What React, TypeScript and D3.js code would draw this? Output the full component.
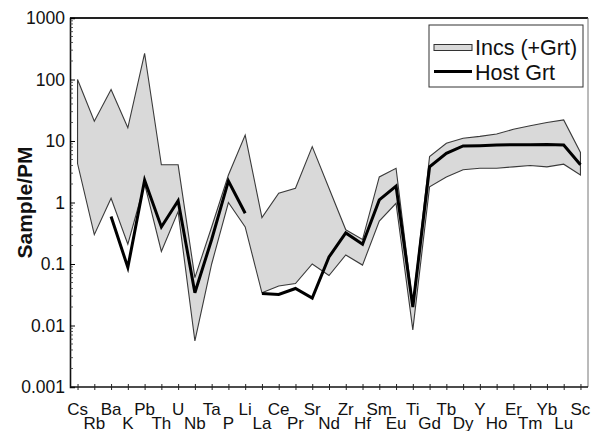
import React, { useEffect, useRef } from 'react';
import * as d3 from 'd3';

// elements along the x axis (primitive mantle normalised)
const elements = ['Cs', 'Rb', 'Ba', 'K', 'Pb', 'Th', 'U', 'Nb', 'Ta', 'P', 'Li', 'La', 'Ce', 'Pr', 'Sr', 'Nd',
  'Zr', 'Hf', 'Sm', 'Eu', 'Ti', 'Gd', 'Tb', 'Dy', 'Y', 'Ho', 'Er', 'Tm', 'Yb', 'Lu', 'Sc'];

// inclusion envelope (max / min)
const incsUpper = [100, 21, 69, 16.4, 267, 4.1, 4.1, 0.06, 0.4, 2.8, 12.5, 0.57, 1.42, 1.7, 8.1, 1.7,
  0.36, 0.25, 2.6, 3.6, 0.022, 5.6, 9.2, 11.1, 11.9, 13, 15.5, 17.7, 20, 22, 6.5];
const incsLower = [4.3, 0.3, 1.17, 0.21, 2.0, 0.16, 0.71, 0.0056, 0.1, 1.0, 0.4, 0.034, 0.044, 0.048, 0.1, 0.065,
  0.14, 0.096, 0.5, 0.97, 0.0085, 1.8, 2.6, 3.4, 3.6, 3.6, 3.8, 4.0, 3.8, 4.2, 2.8];

// host garnet
const hostGrt: (number | null)[] = [null, null, 0.59, 0.088, 2.3, 0.4, 1.07, 0.034, 0.25, 2.24, 0.67, 0.033, 0.032, 0.04, 0.028, 0.13,
  0.32, 0.21, 1.1, 1.85, 0.02, 3.8, 6.3, 8.3, 8.4, 8.6, 8.7, 8.7, 8.8, 8.6, 4.1];
// host line is not drawn between these and the next element
const hostBreaks = ['Li'];

const yTicks = [0.001, 0.01, 0.1, 1, 10, 100, 1000];
const legendLabels = ['Incs (+Grt)', 'Host Grt'];

const W = 602, H = 431;
const margin = { top: 18, right: 14, bottom: 44, left: 70 };
const FONT = 'Arial, "Liberation Sans", sans-serif';

const App = () => {
  const ref = useRef<SVGSVGElement>(null);

  useEffect(() => {
    const svg = d3.select(ref.current);
    svg.selectAll('*').remove();

    const x = d3.scalePoint<string>()
      .domain(elements)
      .range([margin.left, W - margin.right])
      .padding(0.45);

    const y = d3.scaleLog()
      .domain([0.001, 1000])
      .range([H - margin.bottom, margin.top]);

    const rows = elements.map((e, i) => ({ e, hi: incsUpper[i], lo: incsLower[i], h: hostGrt[i] }));

    // envelope
    const area = d3.area<any>()
      .x(d => x(d.e) as number)
      .y0(d => y(d.lo))
      .y1(d => y(d.hi));

    svg.append('path')
      .datum(rows)
      .attr('d', area)
      .attr('fill', '#d9d9d9')
      .attr('stroke', '#3a3a3a')
      .attr('stroke-width', 1.1)
      .attr('stroke-linejoin', 'miter');

    // host garnet, split at breaks
    const segments: any[][] = [];
    let cur: any[] = [];
    rows.forEach(r => {
      if (r.h != null) cur.push(r);
      if (hostBreaks.includes(r.e) || r.h == null) {
        if (cur.length) segments.push(cur);
        cur = [];
      }
    });
    if (cur.length) segments.push(cur);

    const line = d3.line<any>()
      .x(d => x(d.e) as number)
      .y(d => y(d.h));

    svg.selectAll('.host')
      .data(segments)
      .enter().append('path')
      .attr('class', 'host')
      .attr('d', line)
      .attr('fill', 'none')
      .attr('stroke', '#000')
      .attr('stroke-width', 3)
      .attr('stroke-linejoin', 'miter');

    // frame
    const x0 = margin.left, x1 = W - margin.right, y0 = H - margin.bottom, y1 = margin.top;
    svg.append('line').attr('x1', x0).attr('x2', x1).attr('y1', y1).attr('y2', y1)
      .attr('stroke', '#222').attr('stroke-width', 1.8);
    svg.append('line').attr('x1', x1).attr('x2', x1).attr('y1', y1).attr('y2', y0)
      .attr('stroke', '#777').attr('stroke-width', 1);

    // y axis
    const yAxis = svg.append('g')
      .attr('transform', 'translate(' + x0 + ',0)')
      .call(d3.axisRight(y).tickValues(yTicks).tickSize(5).tickFormat(() => ''));
    yAxis.select('.domain').attr('stroke', '#111').attr('stroke-width', 1.6);

    const minor: number[] = [];
    for (let p = -3; p < 3; p++) {
      for (let m = 2; m <= 9; m++) minor.push(m * Math.pow(10, p));
    }
    yAxis.selectAll('.minor')
      .data(minor)
      .enter().append('line')
      .attr('class', 'minor')
      .attr('x1', 0).attr('x2', 3)
      .attr('y1', d => y(d)).attr('y2', d => y(d))
      .attr('stroke', '#333').attr('stroke-width', 0.8);

    svg.selectAll('.ylab')
      .data(yTicks)
      .enter().append('text')
      .attr('class', 'ylab')
      .attr('x', x0 - 5)
      .attr('y', d => y(d))
      .attr('dy', '0.35em')
      .attr('text-anchor', 'end')
      .attr('font-family', FONT)
      .attr('font-size', 17.5)
      .attr('fill', '#111')
      .text(d => d3.format('~g')(d));

    svg.append('text')
      .attr('transform', 'translate(32,' + (margin.top + (y0 - y1) / 2) + ') rotate(-90)')
      .attr('text-anchor', 'middle')
      .attr('font-family', FONT)
      .attr('font-weight', 'bold')
      .attr('font-size', 21)
      .attr('fill', '#111')
      .text('Sample/PM');

    // x axis
    const xAxis = svg.append('g')
      .attr('transform', 'translate(0,' + y0 + ')')
      .call(d3.axisBottom(x).tickSizeInner(3).tickSizeOuter(0).tickFormat(() => ''));
    xAxis.select('.domain').attr('stroke', '#111').attr('stroke-width', 1.6)
      .attr('d', 'M' + x0 + ',0H' + x1);
    xAxis.selectAll('.tick line').attr('y1', -3).attr('stroke', '#222');

    svg.selectAll('.xlab')
      .data(elements)
      .enter().append('text')
      .attr('class', 'xlab')
      .attr('x', d => x(d) as number)
      .attr('y', (d, i) => (i % 2 === 0 ? 415 : 428.5))
      .attr('text-anchor', 'middle')
      .attr('font-family', FONT)
      .attr('font-size', 17)
      .attr('fill', '#111')
      .text(d => d);

    // legend
    const lg = svg.append('g').attr('transform', 'translate(429,25)');
    lg.append('rect')
      .attr('width', 154).attr('height', 62)
      .attr('fill', '#fff').attr('stroke', '#333').attr('stroke-width', 1);
    lg.append('rect')
      .attr('x', 5).attr('y', 19.5).attr('width', 38).attr('height', 6)
      .attr('fill', '#d9d9d9').attr('stroke', '#333').attr('stroke-width', 1);
    lg.append('line')
      .attr('x1', 5).attr('x2', 43).attr('y1', 46.5).attr('y2', 46.5)
      .attr('stroke', '#000').attr('stroke-width', 3);
    lg.selectAll('.lgt')
      .data(legendLabels)
      .enter().append('text')
      .attr('class', 'lgt')
      .attr('x', 46)
      .attr('y', (d, i) => 22.5 + i * 25)
      .attr('dy', '0.35em')
      .attr('font-family', FONT)
      .attr('font-size', 21.5)
      .attr('fill', '#111')
      .text(d => d);
  }, []);

  return (
    <div style={{ position: 'absolute', left: 0, top: 0 }}>
      <svg ref={ref} width={W} height={H} style={{ display: 'block', background: '#fff' }} />
    </div>
  );
};

export default App;
